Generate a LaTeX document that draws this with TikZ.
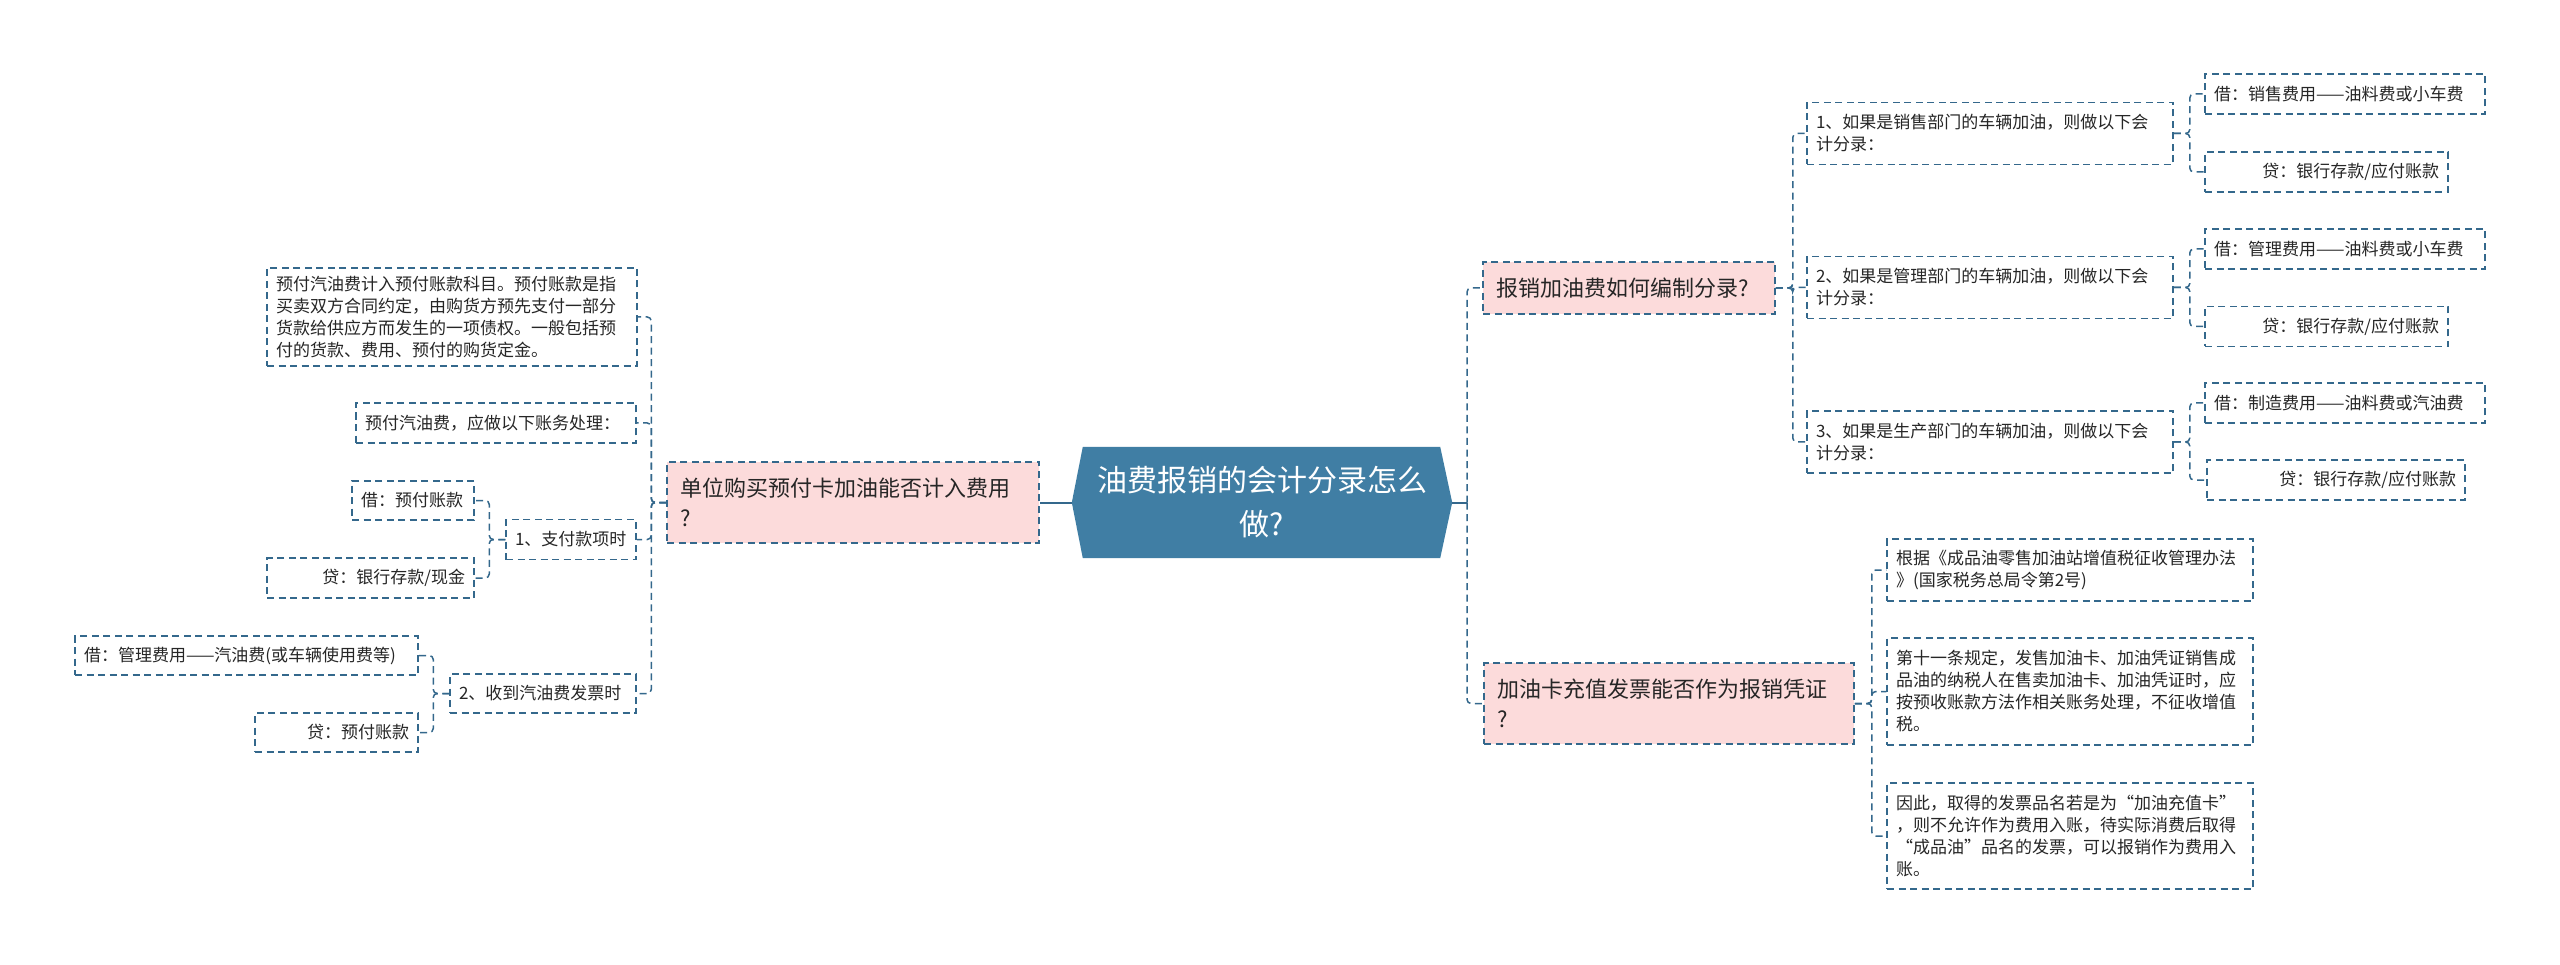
\documentclass[tikz,border=0pt]{standalone}
\usepackage{fontspec}
\setmainfont{Noto Sans CJK SC}
\usetikzlibrary{backgrounds}
\definecolor{lineblue}{RGB}{52,104,140}
\definecolor{rootfill}{RGB}{64,126,164}
\definecolor{pinkfill}{RGB}{252,219,219}
\definecolor{txt}{RGB}{38,38,38}
\tikzset{
  conn/.style={draw=lineblue, line width=1.5pt, dash pattern=on 7pt off 4.5pt, rounded corners=4pt},
  rootconn/.style={draw=lineblue, line width=2pt},
  leaf/.style={draw=lineblue, line width=1.5pt, dash pattern=on 7pt off 4.5pt, inner xsep=9pt, inner ysep=0pt, text=txt, font=\fontsize{17}{22}\selectfont, align=left},
  leafr/.style={leaf, align=right},
  topic/.style={leaf, fill=pinkfill, inner xsep=13pt, font=\fontsize{22}{30}\selectfont},
  rootnode/.style={inner sep=0pt, minimum width=380pt, minimum height=111pt, text=white, font=\fontsize{30}{44}\selectfont, align=center, text width=380pt},
}
\begin{document}
\begin{tikzpicture}[x=1pt, y=-1pt]
\useasboundingbox (0,0) rectangle (2560,965);

% root
\node[rootnode] (root) at (1262,502.5) {油费报销的会计分录怎么\\做?};

% left topic
\node[topic, minimum width=372pt, minimum height=81pt, text width=346pt] (L) at (853,502.5) {单位购买预付卡加油能否计入费用\\?};
\node[leaf, minimum width=370pt, minimum height=98pt, text width=352pt] (a1) at (452,317) {预付汽油费计入预付账款科目。预付账款是指\\买卖双方合同约定，由购货方预先支付一部分\\货款给供应方而发生的一项债权。一般包括预\\付的货款、费用、预付的购货定金。};
\node[leaf, minimum width=280pt, minimum height=40pt, text width=262pt] (a2) at (496,423) {预付汽油费，应做以下账务处理：};
\node[leaf, minimum width=130pt, minimum height=40pt, text width=112pt] (a3) at (571,539.5) {1、支付款项时};
\node[leaf, minimum width=122pt, minimum height=39pt, text width=104pt] (a3a) at (413,500.5) {借：预付账款};
\node[leafr, minimum width=207pt, minimum height=40pt, text width=189pt] (a3b) at (370.5,578) {贷：银行存款/现金};
\node[leaf, minimum width=186pt, minimum height=39pt, text width=168pt] (a4) at (543,693.5) {2、收到汽油费发票时};
\node[leaf, minimum width=343pt, minimum height=39pt, text width=325pt] (a4a) at (246.5,655.5) {借：管理费用——汽油费(或车辆使用费等)};
\node[leafr, minimum width=163pt, minimum height=39pt, text width=145pt] (a4b) at (336.5,732.5) {贷：预付账款};

% right topics
\node[topic, minimum width=292pt, minimum height=52pt, text width=266pt] (R1) at (1629,288) {报销加油费如何编制分录?};
\node[topic, minimum width=370pt, minimum height=81pt, text width=344pt] (R2) at (1669,703.5) {加油卡充值发票能否作为报销凭证\\?};

\node[leaf, minimum width=366pt, minimum height=62pt, text width=348pt] (r1a) at (1990,133.5) {1、如果是销售部门的车辆加油，则做以下会\\计分录：};
\node[leaf, minimum width=366pt, minimum height=62pt, text width=348pt] (r1b) at (1990,287.5) {2、如果是管理部门的车辆加油，则做以下会\\计分录：};
\node[leaf, minimum width=366pt, minimum height=62pt, text width=348pt] (r1c) at (1990,442) {3、如果是生产部门的车辆加油，则做以下会\\计分录：};

\node[leaf, minimum width=280pt, minimum height=40pt, text width=262pt] (r1a1) at (2345,94) {借：销售费用——油料费或小车费};
\node[leafr, minimum width=243pt, minimum height=40pt, text width=225pt] (r1a2) at (2326.5,172) {贷：银行存款/应付账款};
\node[leaf, minimum width=280pt, minimum height=40pt, text width=262pt] (r1b1) at (2345,249) {借：管理费用——油料费或小车费};
\node[leafr, minimum width=243pt, minimum height=40pt, text width=225pt] (r1b2) at (2326.5,326.5) {贷：银行存款/应付账款};
\node[leaf, minimum width=280pt, minimum height=40pt, text width=262pt] (r1c1) at (2345,403) {借：制造费用——油料费或汽油费};
\node[leafr, minimum width=258pt, minimum height=40pt, text width=240pt] (r1c2) at (2336,480) {贷：银行存款/应付账款};

\node[leaf, minimum width=366pt, minimum height=62pt, text width=348pt] (r2a) at (2070,570) {根据《成品油零售加油站增值税征收管理办法\\》(国家税务总局令第2号)};
\node[leaf, minimum width=366pt, minimum height=107pt, text width=348pt] (r2b) at (2070,691.5) {第十一条规定，发售加油卡、加油凭证销售成\\品油的纳税人在售卖加油卡、加油凭证时，应\\按预收账款方法作相关账务处理，不征收增值\\税。};
\node[leaf, minimum width=366pt, minimum height=106pt, text width=348pt] (r2c) at (2070,836) {因此，取得的发票品名若是为“加油充值卡”\\，则不允许作为费用入账，待实际消费后取得\\“成品油”品名的发票，可以报销作为费用入\\账。};

% connectors
\coordinate (rj) at (1467,502.5);
\draw[rootconn] (root.west) -- (L.east);
\draw[rootconn] (root.east) -- (rj);

\draw[conn] (L.west) -- ++(-15,0) |- (a1.east);
\draw[conn] (L.west) -- ++(-15,0) |- (a2.east);
\draw[conn] (L.west) -- ++(-15,0) |- (a3.east);
\draw[conn] (L.west) -- ++(-15,0) |- (a4.east);
\draw[conn] (a3.west) -- ++(-16,0) |- (a3a.east);
\draw[conn] (a3.west) -- ++(-16,0) |- (a3b.east);
\draw[conn] (a4.west) -- ++(-16,0) |- (a4a.east);
\draw[conn] (a4.west) -- ++(-16,0) |- (a4b.east);

\draw[conn] (rj) |- (R1.west);
\draw[conn] (rj) |- (R2.west);
\draw[conn] (R1.east) -- ++(17,0) |- (r1a.west);
\draw[conn] (R1.east) -- ++(17,0) |- (r1b.west);
\draw[conn] (R1.east) -- ++(17,0) |- (r1c.west);
\draw[conn] (r1a.east) -- ++(16,0) |- (r1a1.west);
\draw[conn] (r1a.east) -- ++(16,0) |- (r1a2.west);
\draw[conn] (r1b.east) -- ++(16,0) |- (r1b1.west);
\draw[conn] (r1b.east) -- ++(16,0) |- (r1b2.west);
\draw[conn] (r1c.east) -- ++(16,0) |- (r1c1.west);
\draw[conn] (r1c.east) -- ++(16,0) |- (r1c2.west);
\draw[conn] (R2.east) -- ++(17,0) |- (r2a.west);
\draw[conn] (R2.east) -- ++(17,0) |- (r2b.west);
\draw[conn] (R2.east) -- ++(17,0) |- (r2c.west);

\begin{pgfonlayer}{background}
\fill[white] (0,0) rectangle (2560,965);
\fill[rootfill] (root.west) -- ([xshift=11pt]root.north west) -- ([xshift=-12pt]root.north east) -- (root.east) -- ([xshift=-12pt]root.south east) -- ([xshift=11pt]root.south west) -- cycle;
\end{pgfonlayer}
\end{tikzpicture}
\end{document}
